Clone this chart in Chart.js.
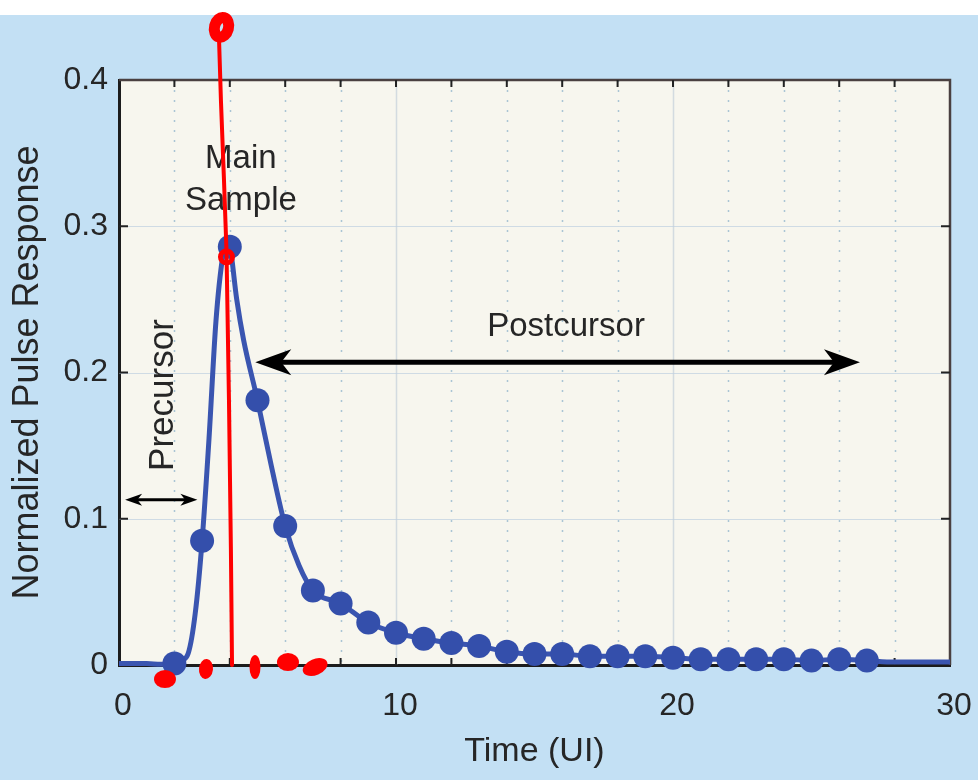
<!DOCTYPE html>
<html>
<head>
<meta charset="utf-8">
<script src="https://cdn.jsdelivr.net/npm/chart.js@4/dist/chart.umd.min.js"></script>
<style>
  html, body { margin: 0; padding: 0; background: #ffffff; }
  #wrap { width: 978px; height: 780px; }
</style>
</head>
<body>
<div id="wrap"><canvas id="c" width="978" height="780"></canvas></div>
<script>
// ---------- data ----------
const sampleX = [2,3,4,5,6,7,8,9,10,11,12,13,14,15,16,17,18,19,20,21,22,23,24,25,26,27];
const sampleY = [0.001,0.085,0.286,0.181,0.095,0.051,0.042,0.029,0.022,0.018,0.015,0.013,0.009,0.0075,0.0075,0.006,0.006,0.006,0.005,0.004,0.004,0.004,0.004,0.003,0.004,0.003];

const curveX = [0,0.5,1,1.5,2,2.25,2.5,2.75,3,3.25,3.5,3.75,3.9,4,4.25,4.5,5,5.5,6,6.5,7,8,9,10,11,12,13,14,15,16,17,18,19,20,21,22,23,24,25,26,27,28,29,30];
const curveY = [0.001,0.001,0.001,0.0005,0.001,0.003,0.008,0.035,0.085,0.155,0.235,0.28,0.29,0.287,0.25,0.222,0.181,0.136,0.095,0.068,0.051,0.042,0.029,0.022,0.018,0.015,0.013,0.009,0.0075,0.0075,0.006,0.006,0.006,0.005,0.004,0.004,0.004,0.004,0.003,0.004,0.003,0.002,0.002,0.002];

const xTickLabels = [0,10,20,30];
const yTickLabels = [0,0.1,0.2,0.3,0.4];

const FONT = '"Liberation Sans", Arial, Helvetica, sans-serif';
const TXT = '#262626';

// ---------- plugins ----------
const backdrop = {
  id: 'backdrop',
  beforeDraw(chart) {
    const {ctx, chartArea: a, width, height} = chart;
    ctx.save();
    ctx.fillStyle = '#ffffff';
    ctx.fillRect(0, 0, width, height);
    ctx.fillStyle = '#c3e0f4';
    ctx.fillRect(0, 15, width, height - 15);
    ctx.fillStyle = '#f7f6ee';
    ctx.fillRect(a.left, a.top, a.right - a.left, a.bottom - a.top);
    ctx.restore();
  },
  beforeDatasetsDraw(chart) {
    const {ctx, chartArea: a, scales: {x, y}} = chart;
    ctx.save();
    for (let v = 2; v < 30; v += 2) {
      const px = Math.round(x.getPixelForValue(v)) + 0.5;
      ctx.beginPath();
      if (v % 10 === 0) {
        ctx.setLineDash([]);
        ctx.strokeStyle = 'rgba(195,208,218,0.7)';
      } else {
        ctx.setLineDash([2, 8]);
        ctx.strokeStyle = 'rgba(150,185,205,0.8)';
      }
      ctx.lineWidth = 1.5;
      ctx.moveTo(px, a.top);
      ctx.lineTo(px, a.bottom);
      ctx.stroke();
    }
    ctx.setLineDash([]);
    for (const v of [0.1, 0.2, 0.3]) {
      const py = Math.round(y.getPixelForValue(v)) + 0.5;
      ctx.beginPath();
      ctx.strokeStyle = 'rgba(190,208,224,0.7)';
      ctx.lineWidth = 1.2;
      ctx.moveTo(a.left, py);
      ctx.lineTo(a.right, py);
      ctx.stroke();
    }
    ctx.strokeStyle = '#4a4040';
    ctx.lineWidth = 2.5;
    ctx.beginPath();
    ctx.moveTo(a.left, a.top);
    ctx.lineTo(a.right, a.top);
    ctx.lineTo(a.right, a.bottom);
    ctx.stroke();
    ctx.strokeStyle = '#222';
    ctx.lineWidth = 2;
    for (let v = 2; v < 30; v += 2) {
      const px = x.getPixelForValue(v);
      ctx.beginPath();
      ctx.moveTo(px, a.bottom); ctx.lineTo(px, a.bottom - 7);
      ctx.moveTo(px, a.top); ctx.lineTo(px, a.top + 7);
      ctx.stroke();
    }
    for (const v of [0.1, 0.2, 0.3]) {
      const py = y.getPixelForValue(v);
      ctx.beginPath();
      ctx.moveTo(a.left, py); ctx.lineTo(a.left + 9, py);
      ctx.moveTo(a.right, py); ctx.lineTo(a.right - 9, py);
      ctx.stroke();
    }
    ctx.restore();
  }
};

function arrowHead(ctx, tipX, tipY, dir, len, half) {
  ctx.beginPath();
  ctx.moveTo(tipX, tipY);
  ctx.lineTo(tipX - dir * len, tipY - half);
  ctx.lineTo(tipX - dir * len * 0.72, tipY);
  ctx.lineTo(tipX - dir * len, tipY + half);
  ctx.closePath();
  ctx.fill();
}
function doubleArrow(ctx, x1, x2, yy, lw, len, half) {
  ctx.beginPath();
  ctx.lineWidth = lw;
  ctx.moveTo(x1 + len * 0.6, yy);
  ctx.lineTo(x2 - len * 0.6, yy);
  ctx.stroke();
  arrowHead(ctx, x1, yy, -1, len, half);
  arrowHead(ctx, x2, yy, 1, len, half);
}

const annotations = {
  id: 'annotations',
  afterDatasetsDraw(chart) {
    const {ctx, scales: {x, y}} = chart;
    ctx.save();
    ctx.fillStyle = TXT;
    ctx.textAlign = 'center';
    ctx.textBaseline = 'middle';
    ctx.font = '33px ' + FONT;
    ctx.fillText('Main', x.getPixelForValue(4.4), y.getPixelForValue(0.346));
    ctx.fillText('Sample', x.getPixelForValue(4.4), y.getPixelForValue(0.317));
    ctx.fillText('Postcursor', x.getPixelForValue(16.14), y.getPixelForValue(0.231));
    ctx.save();
    ctx.font = '35px ' + FONT;
    ctx.translate(x.getPixelForValue(1.59), y.getPixelForValue(0.1846));
    ctx.rotate(-Math.PI / 2);
    ctx.fillText('Precursor', 0, 0);
    ctx.restore();
    ctx.strokeStyle = '#000';
    ctx.fillStyle = '#000';
    doubleArrow(ctx, x.getPixelForValue(4.92), x.getPixelForValue(26.75), y.getPixelForValue(0.207), 5, 36, 13);
    doubleArrow(ctx, x.getPixelForValue(0.22), x.getPixelForValue(2.83), y.getPixelForValue(0.113), 3, 17, 6);
    ctx.restore();
  },
  afterDraw(chart) {
    // red hand-drawn overlay
    const {ctx, scales: {x, y}} = chart;
    const P = (vx, vy) => [x.getPixelForValue(vx), y.getPixelForValue(vy)];
    ctx.save();
    ctx.strokeStyle = '#ff0000';
    ctx.fillStyle = '#ff0000';
    ctx.lineCap = 'round';
    ctx.lineJoin = 'round';
    const path = [[3.61,0.4286],[3.68,0.386],[3.79,0.3315],[3.88,0.2837],[3.97,0.181],[4.04,0.0786],[4.08,0]];
    ctx.lineWidth = 4;
    ctx.beginPath();
    path.forEach((p, i) => { const [px, py] = P(p[0], p[1]); i ? ctx.lineTo(px, py) : ctx.moveTo(px, py); });
    ctx.stroke();
    let [cx, cy] = P(3.7, 0.436);
    ctx.lineWidth = 11;
    ctx.beginPath(); ctx.ellipse(cx, cy, 7, 10, 0.25, 0, Math.PI * 2); ctx.stroke();
    [cx, cy] = P(3.88, 0.279);
    ctx.lineWidth = 5;
    ctx.beginPath(); ctx.ellipse(cx, cy, 6, 6, 0, 0, Math.PI * 2); ctx.stroke();
    const blobs = [[1.66,-0.0096,11,9,0],[3.14,-0.0027,7,10,0.1],[4.91,-0.0014,5.5,12,0],[6.10,0.002,11,9,0],[7.08,-0.0014,13,8,-0.4]];
    blobs.forEach(b => {
      const [bx, by] = P(b[0], b[1]);
      ctx.beginPath(); ctx.ellipse(bx, by, b[2], b[3], b[4], 0, Math.PI * 2); ctx.fill();
    });
    ctx.restore();
  }
};

// ---------- chart ----------
const toPts = (xs, ys) => xs.map((v, i) => ({x: v, y: ys[i]}));

new Chart(document.getElementById('c'), {
  type: 'line',
  data: {
    datasets: [
      {
        data: toPts(curveX, curveY),
        borderColor: '#3a55b0',
        borderWidth: 5,
        pointRadius: 0,
        cubicInterpolationMode: 'monotone',
        clip: false,
        order: 2
      },
      {
        data: toPts(sampleX, sampleY),
        showLine: false,
        pointRadius: 12,
        pointBackgroundColor: '#344fab',
        pointBorderColor: '#344fab',
        pointBorderWidth: 0,
        clip: false,
        order: 1
      }
    ]
  },
  options: {
    responsive: false,
    animation: false,
    devicePixelRatio: 1,
    layout: { padding: { top: 80, right: 28, left: 0, bottom: 0 } },
    plugins: { legend: { display: false }, tooltip: { enabled: false } },
    scales: {
      x: {
        type: 'linear', min: 0, max: 30,
        afterBuildTicks: s => { s.ticks = xTickLabels.map(v => ({value: v})); },
        afterFit: s => { s.height = 115; s.paddingLeft = 0; s.paddingRight = 0; },
        grid: { drawOnChartArea: false, drawTicks: false },
        border: { display: true, color: '#1c1c1c', width: 3 },
        ticks: { color: TXT, font: { family: FONT, size: 32 }, padding: 22, maxRotation: 0, labelOffset: 4 },
        title: { display: true, text: 'Time (UI)', color: TXT, font: { family: FONT, size: 34 }, padding: { top: 0, bottom: 8 } }
      },
      y: {
        type: 'linear', min: 0, max: 0.4,
        afterBuildTicks: s => { s.ticks = yTickLabels.map(v => ({value: v})); },
        afterFit: s => { s.width = 119; s.paddingTop = 0; s.paddingBottom = 0; },
        grid: { drawOnChartArea: false, drawTicks: false },
        border: { display: true, color: '#1c1c1c', width: 3 },
        ticks: { color: TXT, font: { family: FONT, size: 32 }, padding: 11, callback: v => String(v) },
        title: { display: true, text: 'Normalized Pulse Response', color: TXT, font: { family: FONT, size: 36 }, padding: { top: 6, bottom: 0 } }
      }
    }
  },
  plugins: [backdrop, annotations]
});
</script>
</body>
</html>
